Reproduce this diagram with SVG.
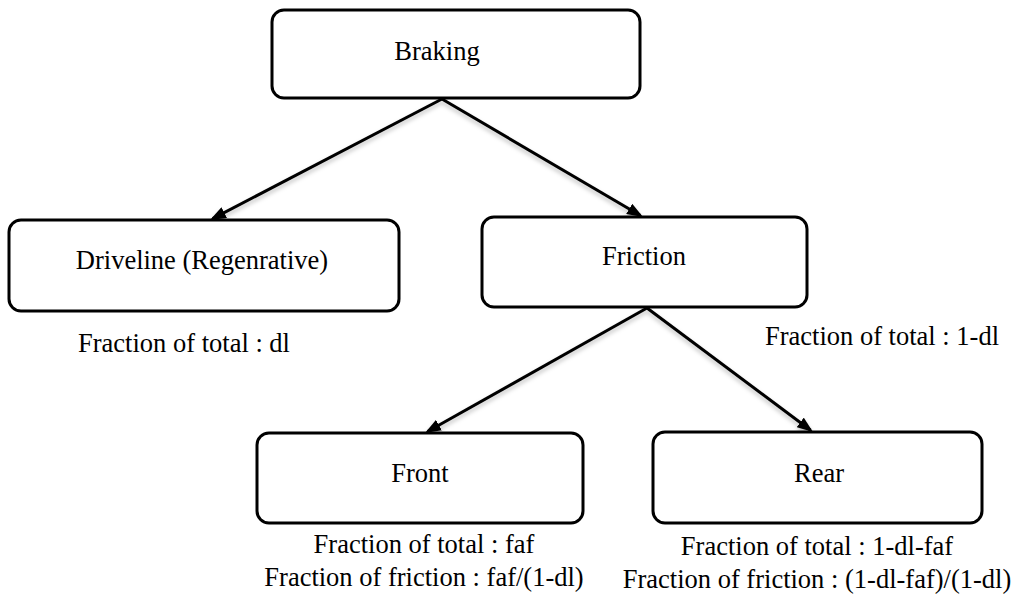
<svg xmlns="http://www.w3.org/2000/svg" width="1021" height="602" viewBox="0 0 1021 602">
  <style>
    .box { fill: #ffffff; stroke: #000000; stroke-width: 3; }
    .label { font-size: 26.5px; fill: #000000; text-anchor: middle; }
    .link { stroke: #000000; stroke-width: 3; fill: none; marker-end: url(#arrow); }
  </style>
  <defs>
    <marker id="arrow" markerUnits="userSpaceOnUse" markerWidth="16" markerHeight="12" viewBox="0 0 16 12" refX="13" refY="6" orient="auto">
      <path d="M0,0 L16,6 L0,12 z" fill="#000000"/>
    </marker>
    <filter id="shade" x="-10%" y="-10%" width="120%" height="130%">
      <feDropShadow dx="0" dy="3" stdDeviation="2" flood-color="#000000" flood-opacity="0.25"/>
    </filter>
  </defs>

  <rect width="1021" height="602" fill="#ffffff"/>

  <!-- connectors -->
  <g id="connectors" filter="url(#shade)">
    <path class="link" d="M442,99 L212.7,218.6"/>
    <path class="link" d="M442,99 L640.4,215.5"/>
    <path class="link" d="M647,308 L427.6,431.5"/>
    <path class="link" d="M647,308 L810.6,430.2"/>
  </g>

  <g font-family="Liberation Serif, Tinos, Times New Roman, DejaVu Serif, serif">
    <g id="braking">
      <rect class="box" x="272" y="10" width="368" height="88" rx="12"/>
      <text class="label" x="437" y="60">Braking</text>
    </g>

    <g id="driveline">
      <rect class="box" x="9" y="220" width="390" height="91" rx="12"/>
      <text class="label" x="202" y="269">Driveline (Regenrative)</text>
      <text class="label" x="184" y="352">Fraction of total : dl</text>
    </g>

    <g id="friction">
      <rect class="box" x="482" y="217" width="325" height="90" rx="12"/>
      <text class="label" x="644" y="265">Friction</text>
      <text class="label" x="882" y="345">Fraction of total : 1-dl</text>
    </g>

    <g id="front">
      <rect class="box" x="257" y="433" width="326" height="90" rx="12"/>
      <text class="label" x="420" y="482">Front</text>
      <text class="label" x="424" y="553">Fraction of total : faf</text>
      <text class="label" x="424" y="586">Fraction of friction : faf/(1-dl)</text>
    </g>

    <g id="rear">
      <rect class="box" x="653" y="432" width="329" height="91" rx="12"/>
      <text class="label" x="819" y="482">Rear</text>
      <text class="label" x="817" y="555">Fraction of total : 1-dl-faf</text>
      <text class="label" x="817" y="588">Fraction of friction : (1-dl-faf)/(1-dl)</text>
    </g>
  </g>
</svg>
